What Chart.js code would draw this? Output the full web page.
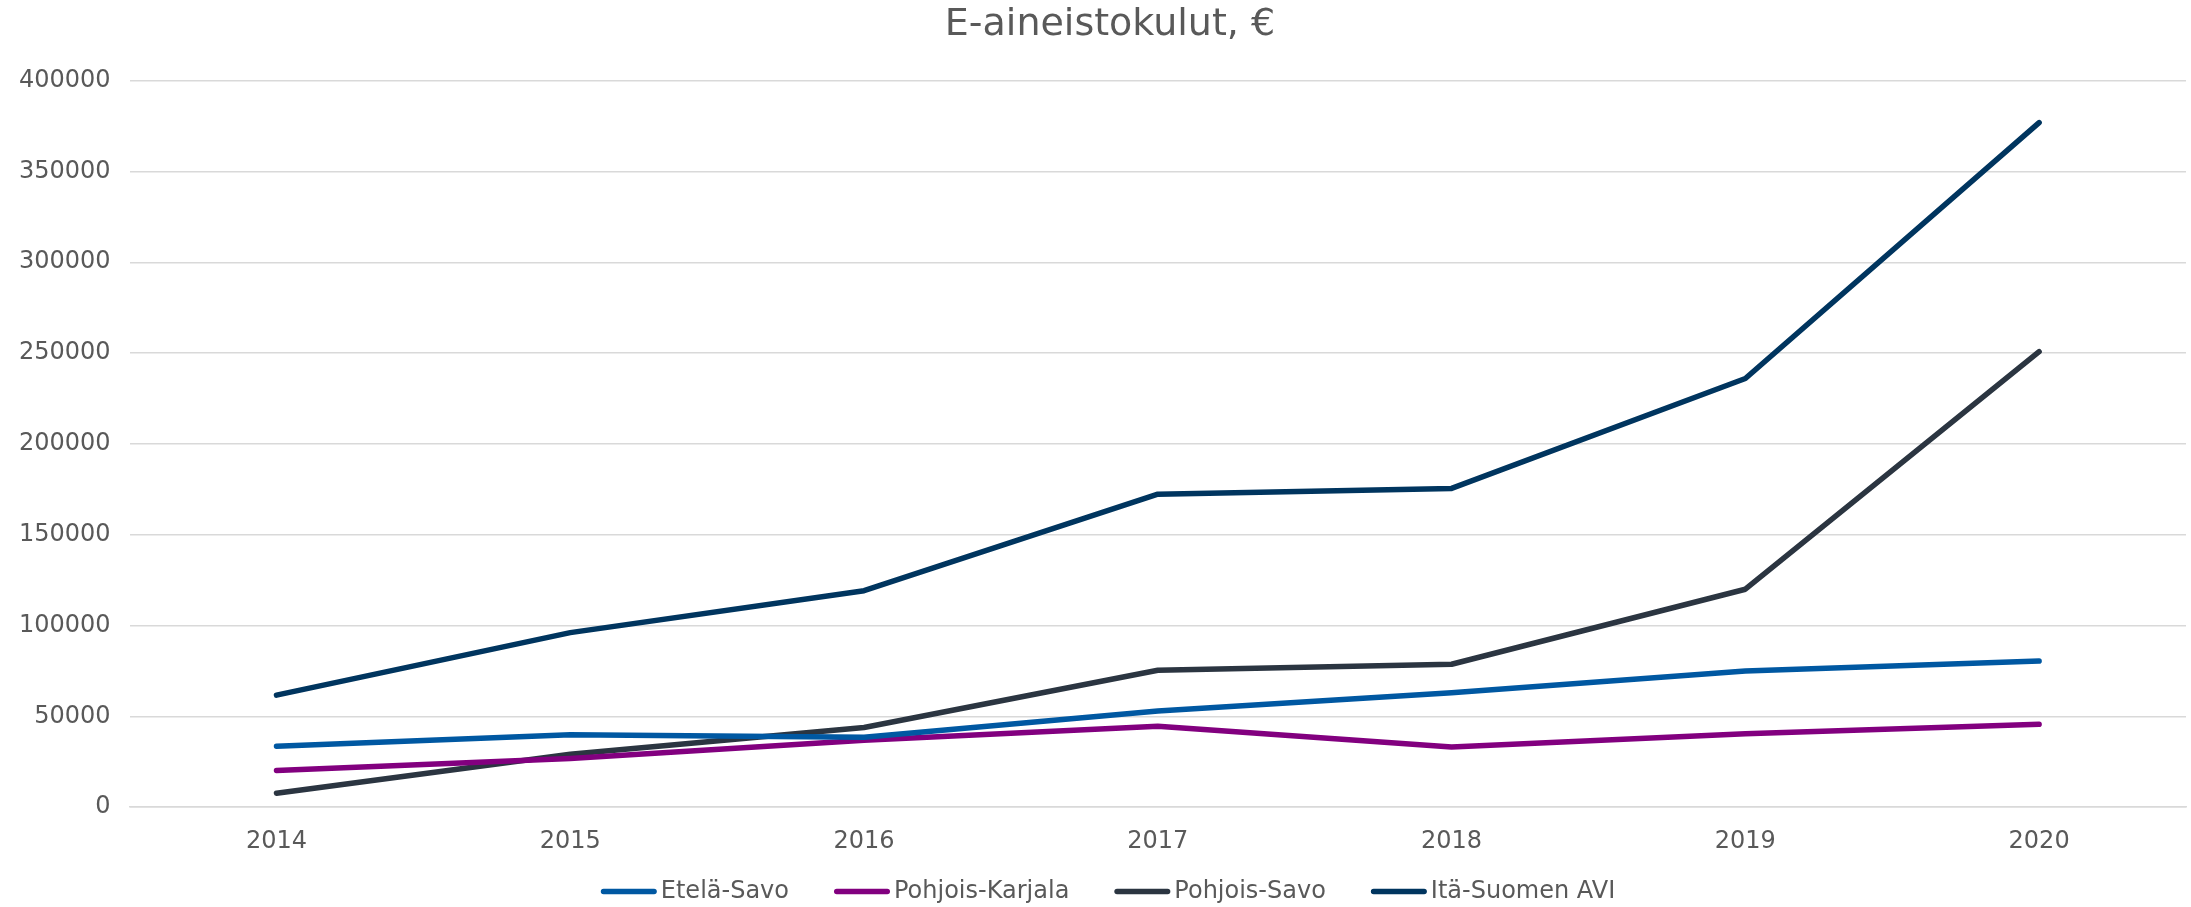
<!DOCTYPE html>
<html>
<head>
<meta charset="utf-8">
<script src="https://cdn.jsdelivr.net/npm/chart.js@4.4.1/dist/chart.umd.min.js"></script>
<style>
html,body{margin:0;padding:0;background:#fff;}
#wrap{width:2191px;height:907px;position:relative;}
</style>
</head>
<body>
<div id="wrap"><canvas id="c" width="2191" height="907"></canvas></div>
<script>
const categories = ['2014','2015','2016','2017','2018','2019','2020'];
const etelaSavo = [33600, 39900, 38500, 53000, 63000, 75000, 80500];
const pohjoisKarjala = [20200, 26800, 36900, 44600, 33200, 40400, 45600];
const pohjoisSavo = [7700, 29200, 43900, 75400, 78700, 120000, 250800];
const itaSuomenAVI = [61700, 96100, 119200, 172300, 175500, 236000, 376900];
const seriesNames = ['Etelä-Savo', 'Pohjois-Karjala', 'Pohjois-Savo', 'Itä-Suomen AVI'];
const colors = ['#0058a2', '#82007f', '#2b3541', '#00355f'];
const yTicks = [0, 50000, 100000, 150000, 200000, 250000, 300000, 350000, 400000];

const FONT = "'DejaVu Sans', Verdana, sans-serif";
const values = [etelaSavo, pohjoisKarjala, pohjoisSavo, itaSuomenAVI];

const LEG_PAD = 45;
const LEG_FONT = 24;
const LEG_BOX = 48;      // space reserved before the text
const MARK_W = 56;       // drawn legend line length
const legendTop = 894 - LEG_PAD - LEG_FONT * 1.2 / 2;

const adjustLayout = {
  id: 'adjustLayout',
  afterLayout(chart) {
    if (chart.titleBlock) { chart.titleBlock.left += 17; chart.titleBlock.right += 17; }
    const lg = chart.legend;
    if (lg) {
      const shift = legendTop - lg.top;
      lg.top += shift; lg.bottom += shift;
      lg.left += 15; lg.right += 15;
    }
  },
  afterDraw(chart) {
    const lg = chart.legend;
    if (!lg || !lg.legendHitBoxes) return;
    const ctx = chart.ctx;
    ctx.save();
    ctx.lineCap = 'round';
    ctx.lineWidth = 5.5;
    lg.legendHitBoxes.forEach((hb, i) => {
      const y = hb.top + hb.height / 2;
      ctx.strokeStyle = colors[i];
      ctx.beginPath();
      ctx.moveTo(hb.left + 2.75, y);
      ctx.lineTo(hb.left + MARK_W - 2.75, y);
      ctx.stroke();
    });
    ctx.restore();
  }
};

new Chart(document.getElementById('c'), {
  type: 'line',
  plugins: [adjustLayout],
  data: {
    labels: categories,
    datasets: values.map((v, i) => ({
      label: seriesNames[i],
      data: v,
      borderColor: colors[i],
      backgroundColor: colors[i],
      borderWidth: 5.5,
      pointRadius: 0,
      pointHoverRadius: 0,
      tension: 0,
      borderCapStyle: 'round',
      borderJoinStyle: 'round',
      fill: false
    }))
  },
  options: {
    responsive: false,
    animation: false,
    layout: { padding: { left: 0, right: 5, top: 0, bottom: -48 } },
    plugins: {
      title: {
        display: true,
        text: 'E-aineistokulut, €',
        color: '#595959',
        font: { family: FONT, size: 38, weight: 'normal' },
        padding: { top: 2, bottom: 33 }
      },
      legend: {
        display: true,
        position: 'bottom',
        labels: {
          color: '#595959',
          font: { family: FONT, size: LEG_FONT },
          boxWidth: LEG_BOX,
          boxHeight: 5,
          padding: LEG_PAD,
          generateLabels(chart) {
            return chart.data.datasets.map((ds, i) => ({
              text: ds.label,
              fillStyle: 'rgba(0,0,0,0)',
              strokeStyle: 'rgba(0,0,0,0)',
              lineWidth: 0,
              datasetIndex: i,
              fontColor: '#595959'
            }));
          }
        }
      },
      tooltip: { enabled: false }
    },
    scales: {
      x: {
        type: 'category',
        offset: true,
        grid: { display: false, drawTicks: false },
        border: { display: true, color: '#d9d9d9', width: 1.5 },
        ticks: { color: '#595959', font: { family: FONT, size: 24 }, padding: 20 }
      },
      y: {
        min: 0,
        max: 400000,
        afterBuildTicks(axis) { axis.ticks = yTicks.map(v => ({ value: v })); },
        grid: { color: '#d9d9d9', lineWidth: 1.5, drawTicks: false },
        border: { display: false },
        ticks: { color: '#595959', font: { family: FONT, size: 24 }, padding: 19,
          callback: v => String(v) }
      }
    }
  }
});
</script>
</body>
</html>
